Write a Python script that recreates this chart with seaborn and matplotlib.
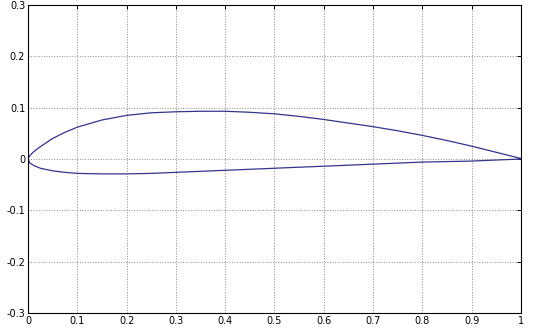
import matplotlib
matplotlib.use("Agg")
import matplotlib.pyplot as plt
import seaborn as sns
import pandas as pd

x_upper = [1.0, 0.95, 0.9, 0.85, 0.8, 0.75, 0.7, 0.65, 0.6, 0.55, 0.5, 0.45, 0.4,
           0.35, 0.3, 0.25, 0.2, 0.15, 0.1, 0.075, 0.05, 0.025, 0.0125, 0.004, 0.0]
y_upper = [0.001, 0.013, 0.025, 0.036, 0.046, 0.055, 0.063, 0.070, 0.077, 0.083, 0.088,
           0.091, 0.093, 0.093, 0.092, 0.090, 0.085, 0.076, 0.062, 0.052, 0.040, 0.024,
           0.015, 0.007, 0.0]
x_lower = [0.0, 0.004, 0.0125, 0.025, 0.05, 0.075, 0.1, 0.15, 0.2, 0.25, 0.3, 0.35, 0.4,
           0.45, 0.5, 0.55, 0.6, 0.65, 0.7, 0.75, 0.8, 0.85, 0.9, 0.95, 1.0]
y_lower = [0.0, -0.008, -0.013, -0.018, -0.023, -0.026, -0.028, -0.029, -0.029, -0.028,
           -0.026, -0.024, -0.022, -0.020, -0.018, -0.016, -0.014, -0.012, -0.010, -0.008,
           -0.006, -0.005, -0.004, -0.002, 0.0]

x_ticks = [0, 0.1, 0.2, 0.3, 0.4, 0.5, 0.6, 0.7, 0.8, 0.9, 1]
x_labels = ["0", "0.1", "0.2", "0.3", "0.4", "0.5", "0.6", "0.7", "0.8", "0.9", "1"]
y_ticks = [-0.3, -0.2, -0.1, 0, 0.1, 0.2, 0.3]
y_labels = ["-0.3", "-0.2", "-0.1", "0", "0.1", "0.2", "0.3"]

df = pd.DataFrame({"x": x_upper + x_lower, "y": y_upper + y_lower})

sns.set_style("white")
plt.rcParams["font.family"] = ["DejaVu Sans"]

fig = plt.figure(figsize=(5.33, 3.33), dpi=100)
ax = fig.add_axes([0.0525, 0.06, 0.925, 0.925])
sns.lineplot(data=df, x="x", y="y", sort=False, estimator=None, color="#34348a",
             linewidth=0.9, ax=ax)

ax.set_xlim(0, 1)
ax.set_ylim(-0.3, 0.3)
ax.set_xticks(x_ticks)
ax.set_xticklabels(x_labels)
ax.set_yticks(y_ticks)
ax.set_yticklabels(y_labels)
ax.set_xlabel("")
ax.set_ylabel("")
ax.grid(True, linestyle=":", color="#8a8a8a", linewidth=0.7)
ax.tick_params(direction="in", length=3, width=0.7, labelsize=7, top=True, right=True,
               pad=2, colors="black")
for s in ax.spines.values():
    s.set_visible(True)
    s.set_color("black")
    s.set_linewidth(0.8)

fig.savefig("out.png", dpi=100)
